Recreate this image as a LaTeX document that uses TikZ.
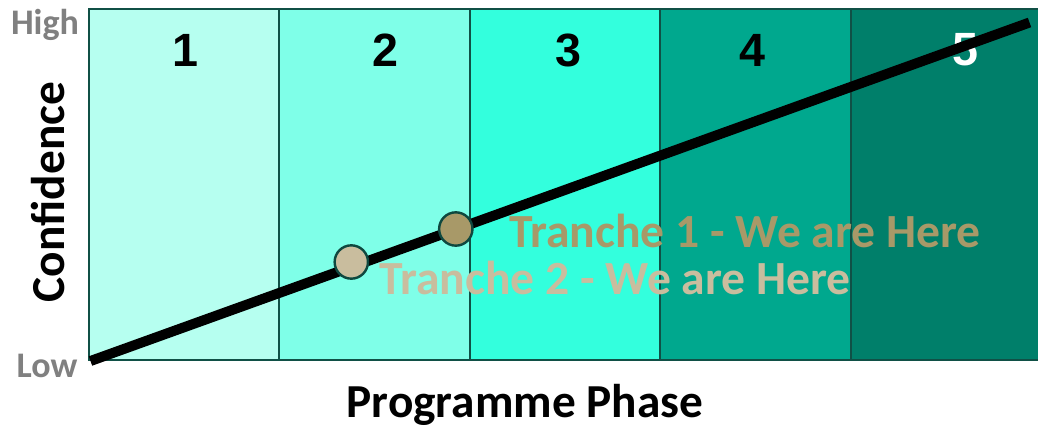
\documentclass[tikz,border=0pt]{standalone}
\usepackage{fontspec}
\setmainfont{Carlito}
\newfontfamily\digitfont{Liberation Sans}
\usetikzlibrary{positioning}

\definecolor{phaseA}{RGB}{182,255,240}
\definecolor{phaseB}{RGB}{127,255,232}
\definecolor{phaseC}{RGB}{51,255,221}
\definecolor{phaseD}{RGB}{0,168,142}
\definecolor{phaseE}{RGB}{0,127,106}
\definecolor{edgeteal}{RGB}{16,80,70}
\definecolor{trancheA}{RGB}{168,153,104}
\definecolor{trancheB}{RGB}{201,189,158}
\definecolor{axisgray}{RGB}{128,128,128}

\begin{document}
\begin{tikzpicture}[
    x=0.75pt,y=-0.75pt,
    font=\bfseries,
    phase/.style={draw=edgeteal,line width=1.5pt,minimum width=142.9pt,
                  minimum height=263.25pt,inner sep=0pt,outer sep=0pt},
    num/.style={font=\digitfont\bfseries\fontsize{35}{40}\selectfont},
    endlabel/.style={text=axisgray,font=\bfseries\fontsize{27}{30}\selectfont,anchor=base},
    axislabel/.style={font=\bfseries\fontsize{35.5}{40}\selectfont},
    trend/.style={line width=7.5pt},
    dot/.style={circle,draw=edgeteal!90!black,line width=1.8pt,minimum size=25pt,inner sep=0pt},
    here/.style={font=\bfseries\fontsize{35.7}{40}\selectfont,anchor=base west,inner sep=0pt}
  ]
  \useasboundingbox (0,0) rectangle (1038,428);

  % programme phases
  \node[phase,fill=phaseA] (p1) at (184.25,184.5) {};
  \node[phase,fill=phaseB] (p2) at (374.75,184.5) {};
  \node[phase,fill=phaseC] (p3) at (565.25,184.5) {};
  \node[phase,fill=phaseD] (p4) at (755.75,184.5) {};
  \node[phase,fill=phaseE] (p5) at (946.25,184.5) {};

  \node[num] (n1) at (185,50) {1};
  \node[num] (n2) at (385,50) {2};
  \node[num] (n3) at (568,50) {3};
  \node[num] (n4) at (752,50) {4};
  \node[num,text=white] (n5) at (965,50) {5};

  % confidence line
  \coordinate (low)  at (90.5,361);
  \coordinate (high) at (1029.5,22.5);
  \draw[trend] (low) -- (high);

  \node[dot,fill=trancheB] (t2) at (351.3,262) {};
  \node[dot,fill=trancheA] (t1) at (455.8,229) {};
  \node[here,text=trancheA] (h1) at (509,247) {Tranche 1 - We are Here};
  \node[here,text=trancheB] (h2) at (379,294) {Tranche 2 - We are Here};

  % axes
  \node[endlabel] (hi) at (45,35) {High};
  \node[endlabel] (lo) at (47,377) {Low};
  \node[axislabel,rotate=90] (conf) at (48,192) {Confidence};
  \node[axislabel,anchor=base] (prog) at (525,417) {Programme Phase};
\end{tikzpicture}
\end{document}
